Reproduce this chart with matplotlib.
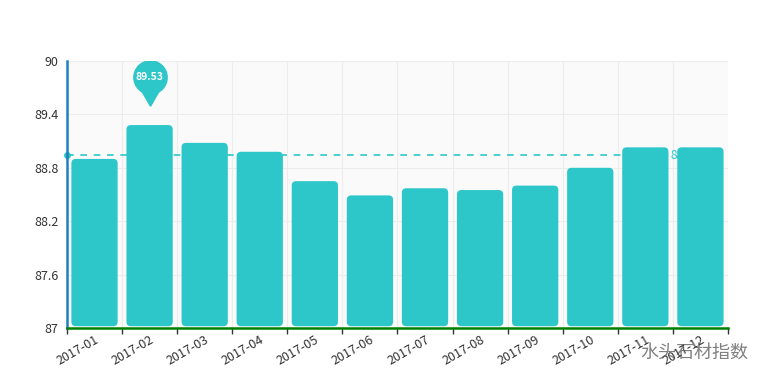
import numpy as np
import matplotlib
matplotlib.use('Agg')
import matplotlib.pyplot as plt
from matplotlib.patches import FancyBboxPatch

plt.rcParams['font.family'] = ['Noto Sans CJK SC', 'DejaVu Sans']

# 数据
months = ['2017-01', '2017-02', '2017-03', '2017-04', '2017-05', '2017-06',
          '2017-07', '2017-08', '2017-09', '2017-10', '2017-11', '2017-12']
values = [88.90, 89.28, 89.08, 88.98, 88.65, 88.49, 88.57, 88.55, 88.60, 88.80, 89.03, 89.03]
avg_value = 88.94
max_value = 89.53
max_idx = 1
y_ticks = [87, 87.6, 88.2, 88.8, 89.4, 90]
y_labels = ['87', '87.6', '88.2', '88.8', '89.4', '90']

teal = '#2ec7c9'

fig = plt.figure(figsize=(7.76, 3.88), dpi=100)
ax = fig.add_axes([0.0863, 0.1546, 0.8518, 0.6882])
ax.set_facecolor('#fafafa')

x = np.arange(1, len(months) + 1)
ax.set_xlim(0.5, len(months) + 0.5)
ax.set_ylim(87, 90)

# grid
for b in np.arange(0.5, len(months) + 1, 1):
    ax.axvline(b, color='#ececec', lw=0.8, zorder=0)
for t in y_ticks:
    ax.axhline(t, color='#ececec', lw=0.8, zorder=0)

# rounded bars
bw = 0.84
asp = (3 / 267) / (12 / 661)
for xi, v in zip(x, values):
    p = FancyBboxPatch((xi - bw / 2, 87.02), bw, v - 87.02,
                       boxstyle='round,pad=0,rounding_size=0.08',
                       mutation_aspect=asp, fc=teal, ec='none', zorder=3)
    ax.add_patch(p)

# average line
ax.plot([0.5, 11.4], [avg_value, avg_value], ls=(0, (4, 4)), color=teal, lw=1.2, zorder=2)
ax.plot([0.5], [avg_value], 'o', color=teal, ms=4, zorder=2, clip_on=False)
ax.text(11.45, avg_value, f'{avg_value:.2f}', color=teal, fontsize=8.5,
        va='center', ha='left', zorder=2)

# max pin
mx = x[max_idx]
ax.plot([mx], [max_value], marker=(3, 0, 180), ms=14, color=teal, zorder=4,
        transform=ax.transData + matplotlib.transforms.ScaledTranslation(0, 5 / 72, fig.dpi_scale_trans))
ax.plot([mx], [max_value], 'o', ms=25, color=teal, zorder=4, mec='none',
        transform=ax.transData + matplotlib.transforms.ScaledTranslation(0, 18.5 / 72, fig.dpi_scale_trans))
ax.annotate(f'{max_value:.2f}', (mx, max_value), xytext=(0, 18.5), textcoords='offset points',
            ha='center', va='center', color='white', fontsize=7.5, fontweight='bold', zorder=5)

# axes styling
for s in ['top', 'right']:
    ax.spines[s].set_visible(False)
ax.spines['left'].set_color('#1f80c0')
ax.spines['left'].set_linewidth(1.8)
ax.spines['bottom'].set_color('#008000')
ax.spines['bottom'].set_linewidth(1.8)

ax.set_yticks(y_ticks)
ax.set_yticklabels(y_labels, fontsize=9, color='#333333')
ax.tick_params(axis='y', length=0, pad=6)

ax.set_xticks(np.arange(0.5, len(months) + 1, 1), minor=False)
ax.set_xticklabels([''] * (len(months) + 1))
ax.tick_params(axis='x', length=4, color='#333333', width=1)
ax.set_xticks(x, minor=True)
ax.set_xticklabels(months, minor=True, rotation=30, ha='right', rotation_mode='anchor',
                   fontsize=9, color='#333333')
ax.tick_params(axis='x', which='minor', length=0, pad=4)

# watermark
fig.text(0.825, 0.09, '水头石材指数', fontsize=13, color='#555555', alpha=0.75,
         ha='left', va='center')

fig.savefig('out.png', dpi=100)
